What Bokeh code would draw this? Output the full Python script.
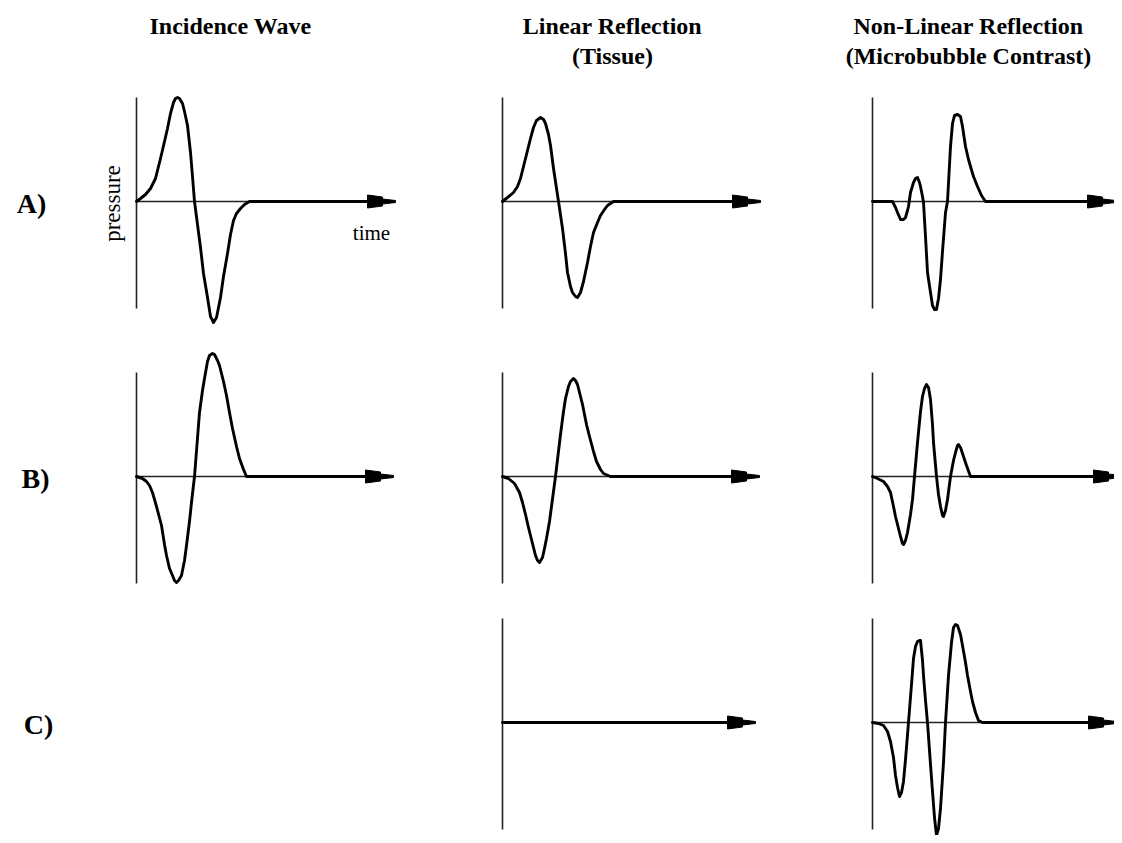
from bokeh.plotting import figure
from bokeh.models import Range1d
from bokeh.embed import file_html
from bokeh.resources import INLINE
from bokeh.core.properties import value
import math

# ---------------- data ----------------
col_titles = [["Incidence Wave"],
              ["Linear Reflection", "(Tissue)"],
              ["Non-Linear Reflection", "(Microbubble Contrast)"]]
row_labels = ["A)", "B)", "C)"]
x_label = "time"
y_label = "pressure"

# waveforms: time (arb. units) / pressure (arb. units)
a1_t = [0, 4, 9, 14, 19, 24, 28, 31, 34, 37, 39, 41, 43, 46, 48, 51, 54, 56, 58, 61, 64, 67,
        71, 74, 77, 80, 84, 87, 91, 94, 97, 100, 104, 108, 113]
a1_p = [0, 3, 7, 13, 23, 43, 60, 73, 88, 99, 103, 104, 103, 98, 90, 76, 49, 25, 0, -23, -46, -72,
        -96, -115, -121, -116, -96, -75, -52, -33, -19, -12, -7, -3, 0]

a2_t = [0, 5, 11, 15, 18, 23, 28, 31, 34, 38, 41, 43, 46, 48, 51, 56, 60, 63, 65, 68, 70, 73,
        75, 78, 81, 85, 88, 91, 95, 98, 102, 105, 111]
a2_p = [0, 4, 9, 15, 23, 43, 63, 74, 81, 84, 82, 78, 67, 56, 33, 0, -27, -52, -71, -85, -91, -95,
        -96, -91, -80, -61, -45, -31, -21, -14, -8, -4, 0]

a3_t = [0, 20, 23, 25, 28, 31, 33, 35, 36, 38, 41, 43, 45, 47, 48, 50, 51, 53, 55, 58, 60, 62,
        64, 66, 68, 70, 73, 75, 78, 80, 82, 85, 88, 90, 93, 96, 98, 101, 105, 109, 113]
a3_p = [0, 0, -6, -11, -18, -18, -16, -9, -5, 9, 19, 23, 24, 19, 15, 5, -1, -35, -71, -91, -104, -108,
        -108, -97, -78, -50, -11, 0, 55, 78, 86, 87, 85, 75, 55, 42, 35, 25, 15, 6, 0]

b1_t = [0, 6, 10, 13, 16, 20, 25, 28, 30, 33, 36, 38, 40, 42, 45, 48, 50, 53, 55, 58, 63, 66,
        68, 71, 73, 76, 78, 81, 83, 87, 90, 93, 96, 100, 103, 107, 110]
b1_p = [0, -2, -5, -9, -16, -30, -49, -68, -79, -92, -99, -104, -106, -104, -99, -84, -69, -45, -26, 0, 64, 86,
        98, 115, 121, 123, 122, 116, 111, 95, 81, 64, 48, 30, 18, 7, 0]

b2_t = [0, 6, 12, 17, 20, 23, 26, 29, 33, 35, 37, 40, 42, 44, 47, 49, 53, 58, 61, 63, 66, 68,
        71, 73, 75, 78, 80, 84, 87, 91, 94, 98, 101, 108]
b2_p = [0, -2, -7, -16, -26, -38, -51, -63, -79, -84, -86, -81, -72, -62, -45, -30, 0, 42, 65, 78, 90, 95,
        98, 96, 92, 80, 72, 52, 40, 25, 15, 7, 3, 0]

b3_t = [0, 5, 11, 15, 18, 21, 23, 26, 28, 30, 31, 33, 35, 38, 40, 42, 45, 48, 50, 52, 54, 56,
        58, 60, 61, 64, 66, 68, 70, 71, 73, 75, 78, 81, 83, 85, 86, 88, 91, 94, 98]
b3_p = [0, -2, -5, -10, -16, -30, -40, -52, -60, -67, -68, -64, -56, -38, -23, 0, 34, 65, 80, 88, 92, 89,
        77, 52, 34, 0, -18, -30, -39, -40, -34, -23, 0, 16, 24, 31, 32, 29, 20, 11, 0]

c2_t = [0]
c2_p = [0]

c3_t = [0, 6, 11, 15, 18, 21, 23, 25, 27, 29, 31, 33, 36, 39, 41, 43, 45, 47, 48, 50, 51, 53,
        55, 58, 60, 62, 64, 66, 68, 71, 73, 76, 79, 81, 83, 85, 88, 90, 93, 95, 98, 100, 103, 106, 110]
c3_p = [0, -1, -3, -9, -19, -35, -53, -65, -74, -70, -59, -37, 0, 38, 64, 76, 81, 82, 82, 62, 47, 22,
        0, -42, -69, -95, -113, -106, -86, -40, 0, 47, 80, 95, 98, 97, 88, 77, 60, 47, 31, 21, 10, 2, 0]

# ---------------- layout (page pixels) ----------------
W, H = 1114, 835
col_x = [136, 502, 872]
row_y = [201, 476, 722]
axis_up, axis_down = 104, 107
panels = [
    # (row, col, t, p, arrow_start)
    (0, 0, a1_t, a1_p, 231),
    (0, 1, a2_t, a2_p, 230),
    (0, 2, a3_t, a3_p, 215),
    (1, 0, b1_t, b1_p, 229),
    (1, 1, b2_t, b2_p, 229),
    (1, 2, b3_t, b3_p, 221),
    (2, 1, c2_t, c2_p, 225),
    (2, 2, c3_t, c3_p, 216),
]

p = figure(width=W, height=H, output_backend="svg", toolbar_location=None,
           x_range=Range1d(0, W), y_range=Range1d(H, 0),
           x_axis_location=None, y_axis_location=None,
           min_border=0, outline_line_color=None)
p.grid.visible = False
p.background_fill_color = "white"
p.border_fill_color = "white"

serif = value("Liberation Serif")
ink = "#000000"

# arrowhead shape (relative to arrow start)
head_dx = [0, 0, 15, 15, 28, 28, 15, 15]
head_dy = [-6.5, 6.5, 4.5, 2.5, 1, -1, -2.5, -4.5]

for r, c, ts, ps, a0 in panels:
    x0, y0 = col_x[c], row_y[r]
    # vertical pressure axis
    p.line([x0, x0], [y0 - axis_up, y0 + axis_down], line_color="#222222", line_width=1.6)
    # thin time axis
    p.line([x0, x0 + a0], [y0, y0], line_color="#222222", line_width=1.6)
    # waveform + flat continuation up to arrow
    xs = [x0 + t for t in ts] + [x0 + a0]
    ys = [y0 - v for v in ps] + [y0]
    p.line(xs, ys, line_color=ink, line_width=2.9, line_join="round", line_cap="round")
    # arrowhead
    p.patch([x0 + a0 + d for d in head_dx], [y0 - d for d in head_dy],
            fill_color=ink, line_color=ink, line_width=1)

# column titles
title_cx = [230, 612, 968]
title_y = [25, 55]
for ci, lines in enumerate(col_titles):
    for li, txt in enumerate(lines):
        p.text([title_cx[ci]], [title_y[li]], text=[txt], text_font=serif,
               text_font_style="bold", text_font_size="24px", text_color=ink,
               text_align="center", text_baseline="middle")

# row labels
label_x = [31, 35, 38]
for ri, lab in enumerate(row_labels):
    p.text([label_x[ri]], [row_y[ri] + 2], text=[lab], text_font=serif,
           text_font_style="bold", text_font_size="28px", text_color=ink,
           text_align="center", text_baseline="middle")

# axis captions in panel A1
p.text([112], [203], text=[y_label], text_font=serif, text_font_size="23px",
       text_color=ink, text_align="center", text_baseline="middle", angle=math.pi / 2)
p.text([371], [232], text=[x_label], text_font=serif, text_font_size="21px",
       text_color=ink, text_align="center", text_baseline="middle")

open("out.html", "w").write(file_html(p, INLINE))
